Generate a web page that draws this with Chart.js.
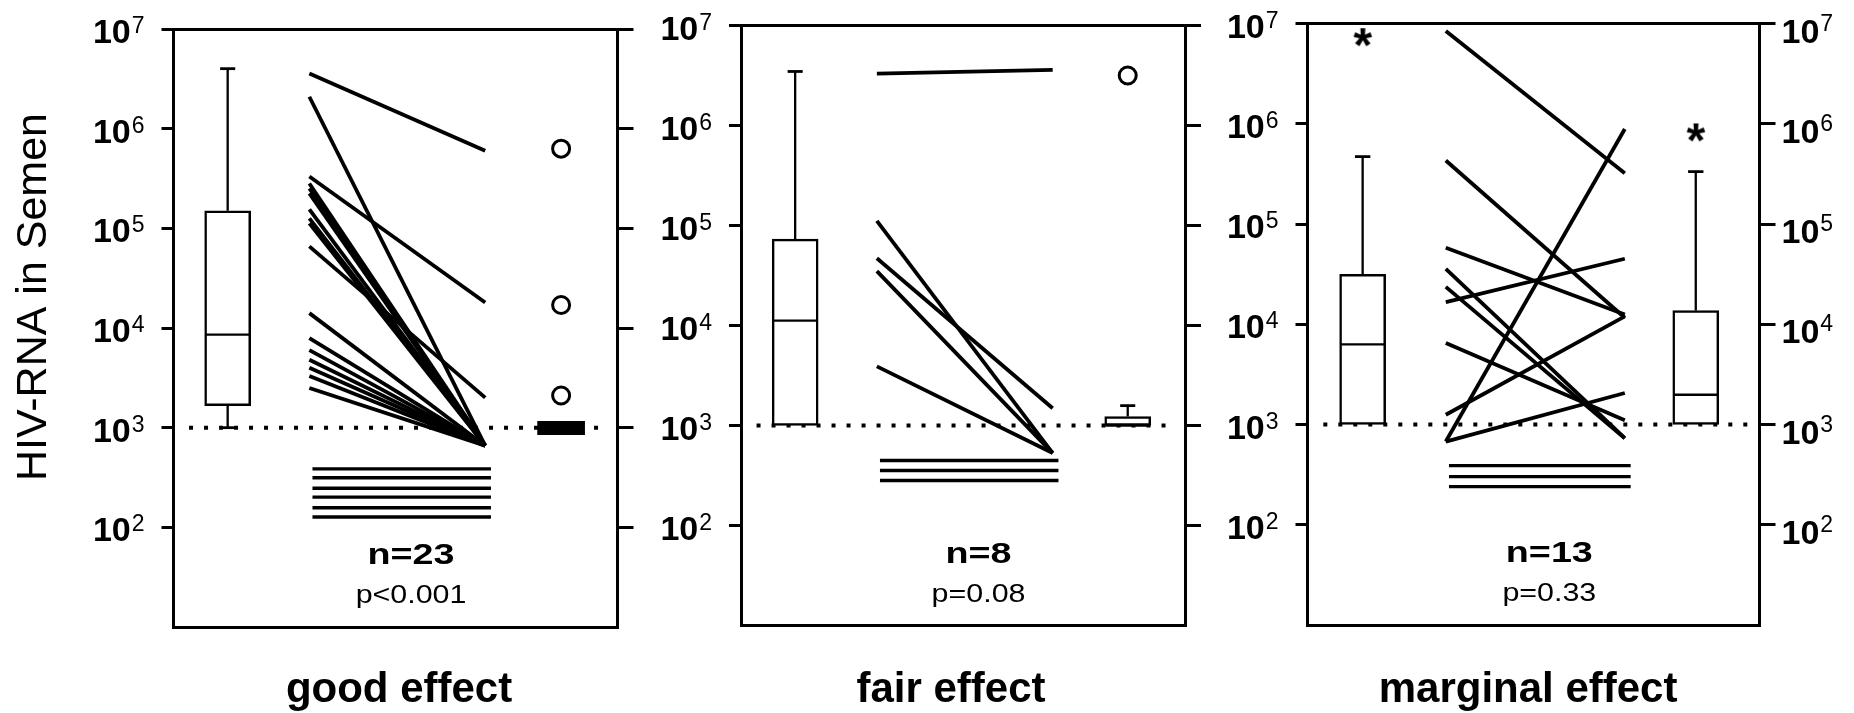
<!DOCTYPE html>
<html>
<head>
<meta charset="utf-8">
<script src="https://cdn.jsdelivr.net/npm/chart.js@4.4.1/dist/chart.umd.min.js"></script>
<style>
  html, body { margin:0; padding:0; background:#fff; }
  #wrap { position:relative; width:1854px; height:713px; overflow:hidden; background:#fff; }
  #wrap canvas { position:absolute; top:0; }
</style>
</head>
<body>
<div id="wrap">
  <canvas id="c1" width="660" height="713" style="left:0px;width:660px;height:713px"></canvas>
  <canvas id="c2" width="580" height="713" style="left:640px;width:580px;height:713px"></canvas>
  <canvas id="c3" width="644" height="713" style="left:1210px;width:644px;height:713px"></canvas>
</div>
<script>
const FONT = '"Liberation Sans", Arial, Helvetica, sans-serif';

// categories and labels
const groups = ['good effect', 'fair effect', 'marginal effect'];
const nLabels = ['n=23', 'n=8', 'n=13'];
const pLabels = ['p<0.001', 'p=0.08', 'p=0.33'];
const yTitle = 'HIV-RNA in Semen';
const decades = [1e2, 1e3, 1e4, 1e5, 1e6, 1e7];
const detectionLimit = 1e3;

// paired values, before -> after (copies/ml)
const goodBefore = [3.57e6, 2.09e6, 3.31e5, 2.82e5, 2.51e5, 2.24e5, 1.55e5, 1.26e5, 1.12e5, 6.6e4, 1.41e4, 7.9e3, 6.0e3, 4.8e3, 4.0e3, 3.3e3, 2.5e3];
const goodAfter  = [6.0e5, 660, 1.8e4, 660, 660, 660, 660, 660, 660, 2.0e3, 660, 660, 660, 660, 660, 660, 660];
const goodFlat   = [386, 314, 247, 201, 157, 127];   // undetectable before and after

const fairBefore = [3.3e6, 1.11e5, 4.7e4, 3.5e4, 3.9e3];
const fairAfter  = [3.6e6, 530, 1.49e3, 530, 530];
const fairFlat   = [447, 355, 282];

const margBefore = [8.4e6, 4.3e5, 5.8e4, 3.57e4, 2.36e4, 6.5e3, 1.25e3, 676, 676, 1.66e4];
const margAfter  = [3.2e5, 1.16e4, 1.25e4, 730, 730, 1.1e3, 1.2e4, 8.85e5, 2.06e3, 4.5e4];
const margFlat   = [389, 302, 240];

// box plots: [lower whisker, q1, median, q3, upper whisker]
const goodBoxBefore = [1000, 1660, 8600, 1.5e5, 4.0e6];
const goodBandAfter = [850, 1160];
const goodOutliersAfter = [6.3e5, 1.7e4, 2.1e3];
const fairBoxBefore = [null, 1000, 1.12e4, 7.3e4, 3.47e6];
const fairBoxAfter  = [null, 1000, 1000, 1230, 1580];
const fairOutliersAfter = [3.16e6];
const margBoxBefore = [null, 1000, 6300, 3.14e4, 4.7e5];
const margBoxAfter  = [null, 1000, 1980, 1.37e4, 3.33e5];
const margExtremeBefore = [7.3e6];
const margExtremeAfter  = [8.2e5];

// layout (fractions of the panel width)
const boxX = 0.122, pairX = [0.306, 0.702], flatX = [0.313, 0.715], dotX = [0.035, 0.98];
const boxHalf = 0.05, capHalf = 0.017;

const panels = [
  { id:'c1', left:0,    width:660, area:[173.5, 617.5, 29, 627],   afterX:0.873, catX:0.508, leftLabels:true, rightLabels:false, title:true,
    boxBefore:goodBoxBefore, bandAfter:goodBandAfter, boxAfter:null, before:goodBefore, after:goodAfter, flat:goodFlat,
    outliers:goodOutliersAfter, extBefore:[], extAfter:[] },
  { id:'c2', left:640,  width:580, area:[741, 1185, 25.5, 625.5],  afterX:0.871, catX:0.473, leftLabels:true, rightLabels:false, title:false,
    boxBefore:fairBoxBefore, bandAfter:null, boxAfter:fairBoxAfter, before:fairBefore, after:fairAfter, flat:fairFlat,
    outliers:fairOutliersAfter, extBefore:[], extAfter:[] },
  { id:'c3', left:1210, width:644, area:[1307.5, 1759.5, 23.5, 625], afterX:0.859, catX:0.488, leftLabels:true, rightLabels:true, title:false,
    boxBefore:margBoxBefore, bandAfter:null, boxAfter:margBoxAfter, before:margBefore, after:margAfter, flat:margFlat,
    outliers:[], extBefore:margExtremeBefore, extAfter:margExtremeAfter }
];

function makeStar() {
  const c = document.createElement('canvas'); c.width = 34; c.height = 34;
  const g = c.getContext('2d');
  g.font = 'bold 48px ' + FONT; g.textAlign = 'center'; g.fillStyle = '#000';
  const m = g.measureText('*');
  const base = 17 + (m.actualBoundingBoxAscent - m.actualBoundingBoxDescent) / 2;
  g.fillText('*', 17, base);
  return c;
}
const star = makeStar();

function buildDatasets(p) {
  const ds = [];
  const line = (x0, y0, x1, y1, w, extra) => ds.push(Object.assign({
    type:'line', data:[{x:x0, y:y0}, {x:x1, y:y1}], borderColor:'#000', borderWidth:w,
    pointRadius:0, pointHoverRadius:0, tension:0, fill:false, clip:false, order:0
  }, extra || {}));
  const box = (x, b) => {
    ds.push({ type:'bar', data:[{x:x, y:[b[1], b[3]]}], backgroundColor:'#fff', borderColor:'#000', borderWidth:2.5,
      borderSkipped:false, barThickness:46, grouped:false, order:10 });
    line(x - boxHalf, b[2], x + boxHalf, b[2], 2.3);
    if (b[4] != null) { line(x, b[3], x, b[4], 2.3); line(x - capHalf, b[4], x + capHalf, b[4], 2.8); }
    if (b[0] != null) { line(x, b[1], x, b[0], 2.3); line(x - capHalf, b[0], x + capHalf, b[0], 2.8); }
  };
  line(dotX[0], detectionLimit, dotX[1], detectionLimit, 4, { borderDash:[4, 11], order:20 });
  box(boxX, p.boxBefore);
  if (p.boxAfter) box(p.afterX, p.boxAfter);
  if (p.bandAfter) ds.push({ type:'bar', data:[{x:p.afterX, y:p.bandAfter}], backgroundColor:'#000', borderColor:'#000',
    borderWidth:0, barThickness:47, grouped:false, order:10 });
  p.before.forEach((v, i) => line(pairX[0], v, pairX[1], p.after[i], 3.8));
  p.flat.forEach(v => line(flatX[0], v, flatX[1], v, 3.4));
  if (p.outliers.length) ds.push({ type:'line', showLine:false, data:p.outliers.map(v => ({x:p.afterX, y:v})),
    pointRadius:8.5, pointBorderWidth:3, pointBorderColor:'#000', pointBackgroundColor:'#fff', clip:false, order:0 });
  const ext = p.extBefore.map(v => ({x:boxX, y:v})).concat(p.extAfter.map(v => ({x:p.afterX, y:v})));
  if (ext.length) ds.push({ type:'line', showLine:false, data:ext, pointStyle:star, pointRadius:12, clip:false, order:0 });
  return ds;
}

function yScale(position, tickLen) {
  return {
    type:'logarithmic', position:position, min:10, max:1e7,
    afterBuildTicks: s => { s.ticks = decades.map(v => ({ value:v })); },
    afterFit: s => { s.width = tickLen; },
    ticks:{ display:false },
    grid:{ drawOnChartArea:false, drawTicks:true, tickLength:tickLen, color:'#000', lineWidth:3 },
    border:{ display:true, color:'#000', width:3 }
  };
}
function xScale(position) {
  return {
    type:'linear', position:position, min:0, max:1, offset:false,
    afterFit: s => { s.height = 0; },
    ticks:{ display:false },
    grid:{ display:false, drawTicks:false },
    border:{ display:true, color:'#000', width:3 }
  };
}

function drawPower(ctx, x, y, exp, align, side) {
  ctx.font = 'bold 34px ' + FONT;
  const w10 = ctx.measureText('10').width;
  ctx.font = '23px ' + FONT;
  const we = ctx.measureText(String(exp)).width;
  const x0 = align === 'right' ? x - (w10 + 1 + we) : x;
  const b1 = side === 'left' ? 14 : 19, b2 = side === 'left' ? 4 : 7;
  ctx.textAlign = 'left';
  ctx.font = 'bold 34px ' + FONT; ctx.fillText('10', x0, y + b1);
  ctx.font = '23px ' + FONT; ctx.fillText(String(exp), x0 + w10 + 1, y + b2);
}
function scaledText(ctx, str, x, y, font, sx) {
  ctx.save(); ctx.font = font; ctx.textAlign = 'center';
  ctx.translate(x, y); ctx.scale(sx, 1); ctx.fillText(str, 0, 0); ctx.restore();
}

const panelText = {
  id:'panelText',
  afterDraw(chart) {
    const cfg = chart.options.plugins.panelText;
    const { ctx, chartArea:a, scales } = chart;
    const w = a.right - a.left;
    ctx.save();
    ctx.fillStyle = '#000'; ctx.textBaseline = 'alphabetic';
    decades.forEach(v => {
      const exp = Math.round(Math.log10(v));
      const py = scales.y.getPixelForValue(v);
      if (cfg.leftLabels) drawPower(ctx, a.left - 29, py, exp, 'right', 'left');
      if (cfg.rightLabels) drawPower(ctx, a.right + 22, py, exp, 'left', 'right');
    });
    scaledText(ctx, nLabels[cfg.index], a.left + 0.535 * w, a.bottom - 63, 'bold 29px ' + FONT, 1.3);
    scaledText(ctx, pLabels[cfg.index], a.left + 0.535 * w, a.bottom - 24, '26px ' + FONT, 1.17);
    ctx.font = 'bold 42px ' + FONT; ctx.textAlign = 'center';
    ctx.fillText(groups[cfg.index], a.left + cfg.catX * w, 702);
    if (cfg.title) {
      ctx.save(); ctx.translate(34, 297); ctx.rotate(-Math.PI / 2);
      ctx.font = '43px ' + FONT; ctx.textAlign = 'center'; ctx.textBaseline = 'middle';
      ctx.fillText(yTitle, 0, 0); ctx.restore();
    }
    ctx.restore();
  }
};

panels.forEach((p, i) => {
  new Chart(document.getElementById(p.id), {
    type:'line',
    data:{ datasets: buildDatasets(p) },
    options:{
      responsive:false, animation:false, events:[],
      layout:{ padding:{ left:p.area[0] - p.left - 12, right:p.left + p.width - p.area[1] - 16, top:p.area[2], bottom:713 - p.area[3] } },
      scales:{ x:xScale('bottom'), x2:xScale('top'), y:yScale('left', 12), y2:yScale('right', 16) },
      plugins:{ legend:{ display:false }, tooltip:{ enabled:false },
        panelText:{ index:i, catX:p.catX, leftLabels:p.leftLabels, rightLabels:p.rightLabels, title:p.title } }
    },
    plugins:[panelText]
  });
});
</script>
</body>
</html>
